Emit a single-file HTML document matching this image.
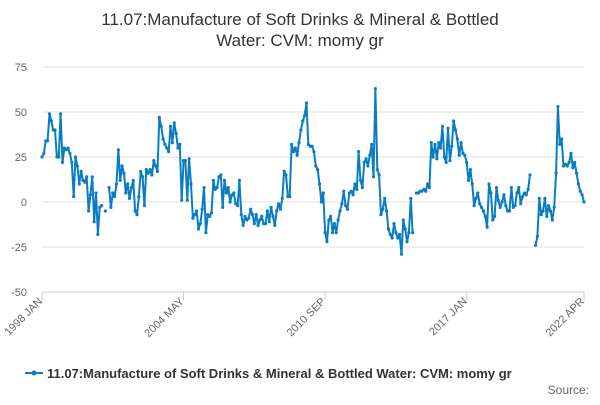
<!DOCTYPE html>
<html><head><meta charset="utf-8"><style>
body{margin:0;background:#fff;font-family:"Liberation Sans",sans-serif;}
svg text{font-family:"Liberation Sans",sans-serif;}
</style></head><body>
<svg width="600" height="400">
<text x="300" y="25" text-anchor="middle" font-size="17" fill="#333">11.07:Manufacture of Soft Drinks &amp; Mineral &amp; Bottled</text>
<text x="300" y="46" text-anchor="middle" font-size="17" fill="#333">Water: CVM: momy gr</text>
<g id="grid"></g><g id="xaxis"></g><g id="series"></g>
<g>
<line x1="25" y1="373" x2="43" y2="373" stroke="#0a7dc2" stroke-width="2"/>
<circle cx="34" cy="373" r="2.5" fill="#0a7dc2"/>
<text x="47" y="378" font-size="13" font-weight="bold" fill="#333">11.07:Manufacture of Soft Drinks &amp; Mineral &amp; Bottled Water: CVM: momy gr</text>
</g>
<text x="589" y="394" text-anchor="end" font-size="12" fill="#666">Source:</text>
</svg>
<script>
const yTicks=[75,50,25,0,-25,-50];
const xLabels=["1998 JAN","2004 MAY","2010 SEP","2017 JAN","2022 APR"];
const xLabelIdx=[0,76,152,228,291];
const values=[
25,27,34,34,49,45,40,40,25,25,49,22,
30,29,30,27,22,3,25,20,10,17,12,11,
14,-5,4,14,-11,5,-18,-3,-2,null,-5,null,
8,-3,5,3,10,29,12,20,16,5,10,2,
8,12,-5,-7,3,17,14,-2,18,16,18,15,
23,20,17,47,42,35,32,30,28,42,33,44,
38,30,32,1,23,23,1,24,10,-9,-7,-5,
-15,-12,-4,8,-17,-7,-8,-6,12,7,8,14,
15,-3,12,5,8,0,4,5,-1,-2,12,-7,
-13,-8,-10,-9,-4,-7,-12,-7,-13,-10,-8,-12,
-12,-5,-11,-3,-8,-13,-5,-1,-4,2,17,15,
3,3,32,28,30,26,33,40,45,48,55,32,
31,31,28,20,18,10,0,5,-17,-22,-10,-8,
-17,-12,-17,-10,-5,-1,6,-2,-4,5,6,4,
10,7,28,12,8,22,24,20,26,32,14,63,
18,15,-7,-4,2,-5,-15,-18,-20,-12,-17,-20,
-18,-29,-10,-15,-22,-17,2,-17,null,5,5,6,
6,7,6,10,8,33,25,32,24,33,30,42,
25,22,41,23,31,45,40,35,26,33,27,26,
22,12,18,10,-2,2,5,-1,-3,-5,-8,-14,
10,5,-10,-8,8,1,-3,0,4,-2,-5,-5,
8,-3,-2,5,8,-1,3,5,4,7,15,null,
null,-24,-19,2,-7,-5,2,-8,-2,-5,-10,-3,
16,53,32,35,20,21,20,22,27,19,22,16,
10,6,4,0];
const NS="http://www.w3.org/2000/svg";
const x0=42,x1=584,n=values.length;
const X=i=>x0+(x1-x0)*i/(n-1);
const Y=v=>202-v*1.8;
const mk=(t,a,p)=>{const e=document.createElementNS(NS,t);for(const k in a)e.setAttribute(k,a[k]);p.appendChild(e);return e;};
const grid=document.getElementById('grid');
yTicks.forEach(t=>{
 const l=mk('line',{x1:x0,x2:x1,y1:Y(t),y2:Y(t),stroke:'#e0e0e0','stroke-width':1},grid);
 
 
 const tx=mk('text',{x:27,y:Y(t)+4,'text-anchor':'end','font-size':11,fill:'#666'},grid);
 tx.textContent=t;
 
 
});
const xa=document.getElementById('xaxis');
const base=mk('line',{x1:x0,x2:x1,y1:Y(-50),y2:Y(-50),stroke:'#ccc'},xa);


xLabelIdx.forEach((idx,k)=>{
 const x=X(idx);
 const tk=mk('line',{x1:x,x2:x,y1:Y(-50),y2:Y(-50)+8,stroke:'#ccc'},xa);
 
 
 const lx=x+1,ly=Y(-50)+10;
 const tx=mk('text',{x:lx,y:ly,'text-anchor':'end','font-size':11,fill:'#666',transform:`rotate(-45 ${lx} ${ly})`},xa);
 tx.textContent=xLabels[k];
 
 
});
const s=document.getElementById('series');
let d='',pen=false;
values.forEach((v,i)=>{
 if(v===null){pen=false;return;}
 d+=(pen?'L':'M')+X(i).toFixed(1)+' '+Y(v).toFixed(1)+' ';pen=true;
});
const p=mk('path',{d:d,fill:'none',stroke:'#0a7dc2','stroke-width':2,'stroke-linejoin':'round'},s);


values.forEach((v,i)=>{
 if(v===null)return;
 const c=mk('circle',{cx:X(i),cy:Y(v),r:1.6,fill:'#0a7dc2'},s);
 
 
});
</script>
</body></html>
